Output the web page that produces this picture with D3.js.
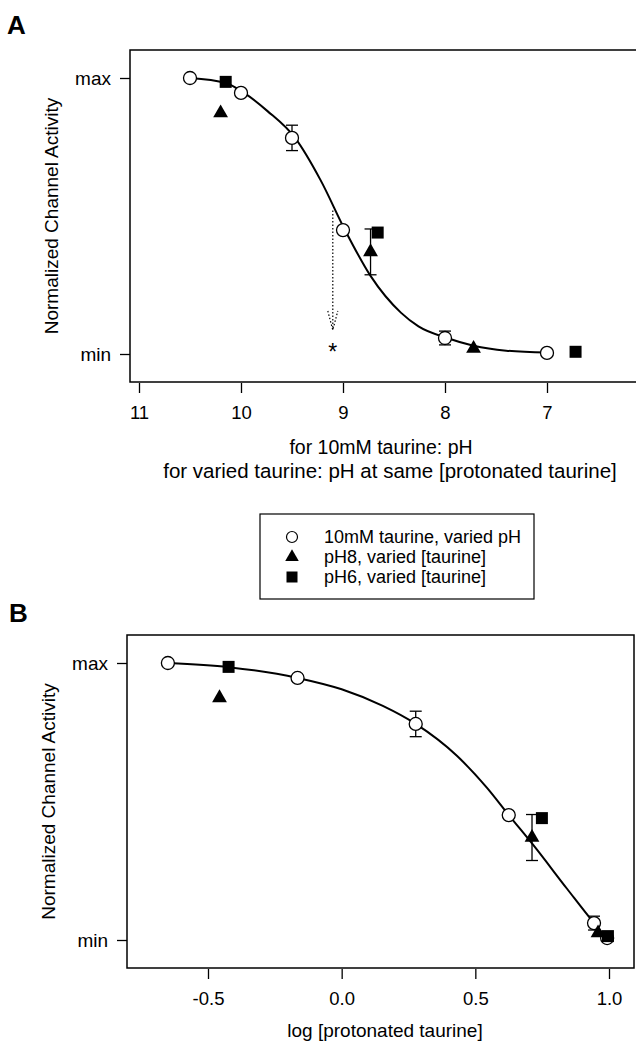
<!DOCTYPE html>
<html>
<head>
<meta charset="utf-8">
<script src="https://cdn.jsdelivr.net/npm/d3@7"></script>
<style>
  body { margin: 0; background: #fff; }
  svg { display: block; font-family: "Liberation Sans", Arial, sans-serif; }
</style>
</head>
<body>
<svg id="chart" width="636" height="1043"></svg>
<script>
// panel A: activity vs pH
const circA_pH = [10.5, 10.0, 9.5, 9.0, 8.0, 7.0];
const circA_val = [1.0, 0.946, 0.783, 0.449, 0.058, 0.004];
const circA_err = [0, 0, 0.046, 0, 0.025, 0];
const triA_pH = [10.2, 8.73, 7.72];
const triA_val = [0.873, 0.37, 0.02];
const triA_err = [0, 0.083, 0];
const sqA_pH = [10.15, 8.66, 6.72];
const sqA_val = [0.986, 0.44, 0.008];
const fitA_pH = [10.5, 10.15, 9.97, 9.74, 9.47, 9.22, 8.98, 8.73, 8.43, 8.26, 7.98, 7.72, 7.4, 7.0];
const fitA_val = [1.0, 0.982, 0.946, 0.88, 0.783, 0.63, 0.449, 0.283, 0.149, 0.10, 0.058, 0.03, 0.012, 0.005];
const pKaA = { pH: 9.1, from: 0.52, to: 0.087 };
const ticksA = [11, 10, 9, 8, 7];

// panel B: activity vs log [protonated taurine]
const circB_x = [-0.65, -0.165, 0.277, 0.625, 0.944, 0.993];
const circB_val = [1.0, 0.946, 0.78, 0.451, 0.061, 0.007];
const circB_err = [0, 0, 0.046, 0, 0.025, 0];
const triB_x = [-0.457, 0.712, 0.959];
const triB_val = [0.874, 0.37, 0.025];
const triB_err = [0, 0.083, 0];
const sqB_x = [-0.423, 0.749, 0.996];
const sqB_val = [0.986, 0.44, 0.014];
const fitB_x = [-0.648, -0.423, -0.165, 0.0, 0.154, 0.277, 0.431, 0.543, 0.625, 0.715, 0.843, 0.944, 0.993];
const fitB_val = [1.0, 0.985, 0.946, 0.905, 0.845, 0.78, 0.665, 0.55, 0.451, 0.345, 0.185, 0.061, 0.005];
const ticksB = [-0.5, 0.0, 0.5, 1.0];

const legendLabels = ["10mM taurine, varied pH", "pH8, varied [taurine]", "pH6, varied [taurine]"];
const legendShapes = ["circle", "triangle", "square"];

const svg = d3.select("#chart");
const zip = (xs, ys, es) => xs.map((x, i) => ({ x: x, y: ys[i], e: es ? es[i] : 0 }));

function drawPanel(opt) {
  const g = svg.append("g");
  const x = opt.x, y = opt.y;

  // frame
  g.append("rect")
    .attr("x", opt.frame[0]).attr("y", opt.frame[1])
    .attr("width", opt.frame[2] - opt.frame[0]).attr("height", opt.frame[3] - opt.frame[1])
    .attr("fill", "none").attr("stroke", "#000").attr("stroke-width", 1.5);

  // x axis
  const xa = g.append("g")
    .attr("transform", `translate(0,${opt.frame[3] + 1})`)
    .call(d3.axisBottom(x).tickValues(opt.ticks).tickFormat(opt.fmt).tickSize(10).tickPadding(13));
  xa.select(".domain").remove();
  xa.selectAll("line").attr("stroke-width", 1.3);
  xa.selectAll("text").attr("font-size", 18.5).attr("fill", "#000");

  // y axis
  const ya = g.append("g")
    .attr("transform", `translate(${opt.frame[0]},0)`)
    .call(d3.axisLeft(y).tickValues([0, 1]).tickFormat(d => d ? "max" : "min").tickSize(10).tickPadding(9));
  ya.select(".domain").remove();
  ya.selectAll("line").attr("stroke-width", 1.3);
  ya.selectAll("text").attr("font-size", 19).attr("fill", "#000");

  g.append("text")
    .attr("transform", `translate(${opt.frame[0] - 79},${(opt.frame[1] + opt.frame[3]) / 2}) rotate(-90)`)
    .attr("text-anchor", "middle").attr("dy", "0.35em")
    .attr("font-size", 19).text("Normalized Channel Activity");

  // fitted curve
  const line = d3.line().x(d => x(d.x)).y(d => y(d.y)).curve(d3.curveMonotoneX);
  const fit = zip(opt.fitX, opt.fitY).sort((a, b) => x(a.x) - x(b.x));
  g.append("path").datum(fit).attr("d", line)
    .attr("fill", "none").attr("stroke", "#000").attr("stroke-width", 2);

  // error bars
  const errs = zip(opt.circX, opt.circY, opt.circE).concat(zip(opt.triX, opt.triY, opt.triE)).filter(d => d.e > 0);
  const eb = g.append("g").attr("stroke", "#000").attr("stroke-width", 1.3);
  errs.forEach(d => {
    eb.append("line").attr("x1", x(d.x)).attr("x2", x(d.x)).attr("y1", y(d.y - d.e)).attr("y2", y(d.y + d.e));
    [d.y - d.e, d.y + d.e].forEach(v => {
      eb.append("line").attr("x1", x(d.x) - 6).attr("x2", x(d.x) + 6).attr("y1", y(v)).attr("y2", y(v));
    });
  });

  // markers
  g.selectAll(".circ").data(zip(opt.circX, opt.circY)).join("circle")
    .attr("cx", d => x(d.x)).attr("cy", d => y(d.y)).attr("r", 6.5)
    .attr("fill", "#fff").attr("stroke", "#000").attr("stroke-width", 1.3);
  g.selectAll(".tri").data(zip(opt.triX, opt.triY)).join("path")
    .attr("d", d3.symbol(d3.symbolTriangle, 95))
    .attr("transform", d => `translate(${x(d.x)},${y(d.y)})`).attr("fill", "#000");
  g.selectAll(".sq").data(zip(opt.sqX, opt.sqY)).join("rect")
    .attr("x", d => x(d.x) - 6).attr("y", d => y(d.y) - 6).attr("width", 12).attr("height", 12)
    .attr("fill", "#000");

  // panel letter
  g.append("text").attr("x", opt.letterPos[0]).attr("y", opt.letterPos[1])
    .attr("font-size", 26).attr("font-weight", "bold").text(opt.letter);

  return g;
}

// Panel A
const xA = d3.scaleLinear().domain([11, 7]).range([139, 547]);
const yA = d3.scaleLinear().domain([0, 1]).range([354, 78]);
const gA = drawPanel({
  x: xA, y: yA, frame: [130, 50, 645, 382], ticks: ticksA, fmt: d3.format("d"),
  circX: circA_pH, circY: circA_val, circE: circA_err,
  triX: triA_pH, triY: triA_val, triE: triA_err,
  sqX: sqA_pH, sqY: sqA_val,
  fitX: fitA_pH, fitY: fitA_val, letter: "A", letterPos: [7, 34]
});

// dotted arrow marking the midpoint
const ax = xA(pKaA.pH);
gA.append("line").attr("x1", ax).attr("x2", ax).attr("y1", yA(pKaA.from)).attr("y2", yA(pKaA.to))
  .attr("stroke", "#000").attr("stroke-width", 1.2).attr("stroke-dasharray", "1.5,2");
gA.append("path")
  .attr("d", `M${ax - 5},${yA(pKaA.to) - 19} L${ax},${yA(pKaA.to)} L${ax + 5},${yA(pKaA.to) - 19}`)
  .attr("fill", "none").attr("stroke", "#000").attr("stroke-width", 1.2).attr("stroke-dasharray", "1.5,2");
gA.append("text").attr("x", ax).attr("y", yA(0) + 6).attr("text-anchor", "middle")
  .attr("font-size", 23).text("*");

gA.append("text").attr("x", 381).attr("y", 454).attr("text-anchor", "middle")
  .attr("font-size", 19.5).text("for 10mM taurine: pH");
gA.append("text").attr("x", 390).attr("y", 478).attr("text-anchor", "middle")
  .attr("font-size", 20.5).text("for varied taurine: pH at same [protonated taurine]");

// legend
const lg = svg.append("g");
lg.append("rect").attr("x", 260).attr("y", 514).attr("width", 274).attr("height", 85)
  .attr("fill", "none").attr("stroke", "#000").attr("stroke-width", 1.2);
const rowY = d3.scalePoint().domain(legendLabels).range([537, 577]);
legendLabels.forEach((lab, i) => {
  const yy = rowY(lab);
  if (legendShapes[i] === "circle") {
    lg.append("circle").attr("cx", 292).attr("cy", yy).attr("r", 5.5)
      .attr("fill", "#fff").attr("stroke", "#000").attr("stroke-width", 1.2);
  } else if (legendShapes[i] === "triangle") {
    lg.append("path").attr("d", d3.symbol(d3.symbolTriangle, 80))
      .attr("transform", `translate(292,${yy})`).attr("fill", "#000");
  } else {
    lg.append("rect").attr("x", 286.5).attr("y", yy - 5.5).attr("width", 11).attr("height", 11).attr("fill", "#000");
  }
  lg.append("text").attr("x", 324).attr("y", yy).attr("dy", "0.35em")
    .attr("font-size", 18).text(lab);
});

// Panel B
const xB = d3.scaleLinear().domain([-0.5, 1.0]).range([208, 609]);
const yB = d3.scaleLinear().domain([0, 1]).range([940, 663]);
const gB = drawPanel({
  x: xB, y: yB, frame: [127, 635, 634, 968], ticks: ticksB, fmt: d => d.toFixed(1),
  circX: circB_x, circY: circB_val, circE: circB_err,
  triX: triB_x, triY: triB_val, triE: triB_err,
  sqX: sqB_x, sqY: sqB_val,
  fitX: fitB_x, fitY: fitB_val, letter: "B", letterPos: [9, 622]
});
gB.append("text").attr("x", 385).attr("y", 1037).attr("text-anchor", "middle")
  .attr("font-size", 19).text("log [protonated taurine]");
</script>
</body>
</html>
